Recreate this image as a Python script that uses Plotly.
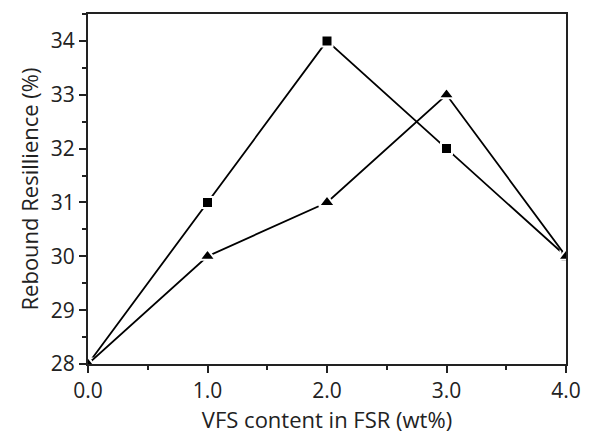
import plotly.graph_objects as go

# VFS loading in FSR (wt%)
vfs_content = [0.0, 1.0, 2.0, 3.0, 4.0]
# Rebound resilience (%) for the two sample series
resilience_square = [28, 31, 34, 32, 30]
resilience_triangle = [28, 30, 31, 33, 30]

font_family = "Open Sans, sans-serif"

fig = go.Figure()
fig.add_trace(go.Scatter(
    x=vfs_content, y=resilience_square, mode="lines+markers",
    line=dict(color="black", width=1.8),
    marker=dict(symbol="square", size=11, color="black",
                line=dict(color="white", width=2)),
    cliponaxis=True, showlegend=False,
))
fig.add_trace(go.Scatter(
    x=vfs_content, y=resilience_triangle, mode="lines+markers",
    line=dict(color="black", width=1.8),
    marker=dict(symbol="triangle-up", size=14, color="black",
                line=dict(color="white", width=2)),
    cliponaxis=True, showlegend=False,
))

axis_common = dict(
    showline=True, linecolor="#222", linewidth=2, mirror=True,
    ticks="outside", ticklen=7, tickwidth=2, tickcolor="#222",
    showgrid=False, zeroline=False,
    tickfont=dict(family=font_family, size=21, color="#222"),
)

fig.update_xaxes(
    range=[0, 4], tickvals=vfs_content,
    ticktext=[f"{v:.1f}" for v in vfs_content],
    minor=dict(dtick=0.5, ticks="outside", ticklen=4, tickwidth=2, tickcolor="#222"),
    title=dict(text="VFS content in FSR (wt%)",
               font=dict(family=font_family, size=22, color="#222"), standoff=3),
    **axis_common,
)
fig.update_yaxes(
    range=[28, 34.5], dtick=1,
    minor=dict(dtick=0.5, ticks="outside", ticklen=4, tickwidth=2, tickcolor="#222"),
    title=dict(text="Rebound Resillience (%)",
               font=dict(family=font_family, size=22, color="#222"), standoff=6),
    **axis_common,
)

fig.update_layout(
    width=593, height=435,
    margin=dict(l=88, r=18, t=13, b=65),
    plot_bgcolor="white", paper_bgcolor="white",
)

fig.write_html("out.html")
